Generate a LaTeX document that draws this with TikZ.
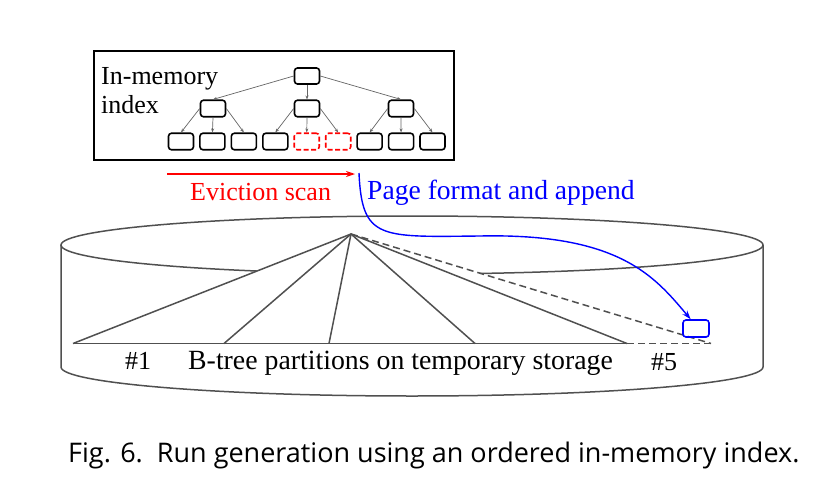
\documentclass[tikz,border=0pt]{standalone}
\usepackage{fontspec}
\setmainfont{Liberation Serif}
\newfontfamily\capfont{Open Sans}
\usetikzlibrary{arrows.meta, positioning, calc}
\definecolor{edgegray}{RGB}{100,100,100}
\definecolor{diskgray}{RGB}{80,80,80}

\begin{document}
\begin{tikzpicture}[
    x=1pt, y=-1pt,
    idxnode/.style={rectangle, draw, rounded corners=3pt, line width=1.6pt, minimum width=25pt, minimum height=16.5pt, inner sep=0pt},
    evicted/.style={idxnode, draw=red, dash pattern=on 5pt off 2.5pt},
    treeedge/.style={-{Stealth[length=4pt, width=3pt]}, edgegray, line width=0.7pt},
    fanline/.style={diskgray, line width=1.5pt},
    fandash/.style={fanline, dash pattern=on 7pt off 4pt},
    lbl/.style={inner sep=0pt, font=\fontsize{26}{29}\selectfont},
    arrow/.style={-{Stealth[length=9pt, width=6pt]}, line width=1.3pt}
]
\useasboundingbox (0,0) rectangle (828,482);

% In-memory index
\node[draw, line width=1.6pt, minimum width=360pt, minimum height=109pt, inner sep=0pt] (idxbox) at (274,105.5) {};
\node[lbl, anchor=base west] (memtxt) at (101,84) {In-memory};
\node[lbl, anchor=base west] (idxtxt) at (101,113) {index};

\node[idxnode, minimum height=16pt] (root) at (307,76) {};
\node[idxnode] (inl) at (213,108.5) {};
\node[idxnode] (inm) at (307,108.5) {};
\node[idxnode] (inr) at (401,108.5) {};
\foreach \i/\st in {1/idxnode, 2/idxnode, 3/idxnode, 4/idxnode, 5/evicted, 6/evicted, 7/idxnode, 8/idxnode, 9/idxnode}
    \node[\st] (leaf\i) at ({181+31.44*(\i-1)},141.5) {};

\draw[treeedge] (root.west) -- (inl.north);
\draw[treeedge] (root.south) -- (inm.north);
\draw[treeedge] (root.east) -- (inr.north);
\foreach \p/\a/\b/\c in {inl/1/2/3, inm/4/5/6, inr/7/8/9} {
    \draw[treeedge] (\p.west) -- (leaf\a.north);
    \draw[treeedge] (\p.south) -- (leaf\b.north);
    \draw[treeedge] (\p.east) -- (leaf\c.north);
}

% Eviction scan
\coordinate (evstart) at (167,174);
\coordinate (evend) at (355,174);
\draw[arrow, red, line width=1.2pt] (evstart) -- (evend);
\node[lbl, text=red, anchor=base west] (evtxt) at (190,200) {Eviction scan};
\node[lbl, text=blue, anchor=base west, font=\fontsize{27.6}{30}\selectfont] (pgtxt) at (367,199) {Page format and append};

% Temporary storage
\draw[fanline] (412,245) ellipse [x radius=351pt, y radius=29pt];
\draw[fanline] (61,245) -- (61,367) arc[start angle=180, end angle=360, x radius=351pt, y radius=29pt] -- (763,245);

\coordinate (apex) at (351,234);
\coordinate (p0) at (73,343.5);
\coordinate (p1) at (224,343.5);
\coordinate (p2) at (329,343.5);
\coordinate (p3) at (475,343.5);
\coordinate (p4) at (627,343.5);
\coordinate (p5) at (711,343.5);
\fill[white] (apex) -- (p0) -- (p5) -- cycle;
\draw[fanline] (p0) -- (p4);
\draw[fandash] (p4) -- (p5);
\foreach \q in {p0, p1, p2, p3, p4}
    \draw[fanline] (apex) -- (\q);
\draw[fandash] (apex) -- (p5);

\node[lbl, anchor=base west] (num1) at (125,369) {\#1};
\node[lbl, anchor=base west, font=\fontsize{27.8}{30}\selectfont] (parttxt) at (188,369) {B-tree partitions on temporary storage};
\node[lbl, anchor=base west] (num5) at (651,370) {\#5};

% Page format and append
\node[draw=blue, line width=1.6pt, rounded corners=3pt, minimum width=26pt, minimum height=17pt, inner sep=0pt] (page) at (696,328.5) {};
\coordinate (pgstart) at (359,173);
\draw[arrow, blue, line width=1.4pt] (pgstart) .. controls (362,240) and (380,237) .. (480,236) .. controls (620,233) and (655,277) .. (page.120);

\node[anchor=base west, inner sep=0pt, font=\capfont\fontsize{27}{30}\selectfont] (caption) at (68,462) {Fig. 6.\ \ Run generation using an ordered in-memory index.};
\end{tikzpicture}
\end{document}
